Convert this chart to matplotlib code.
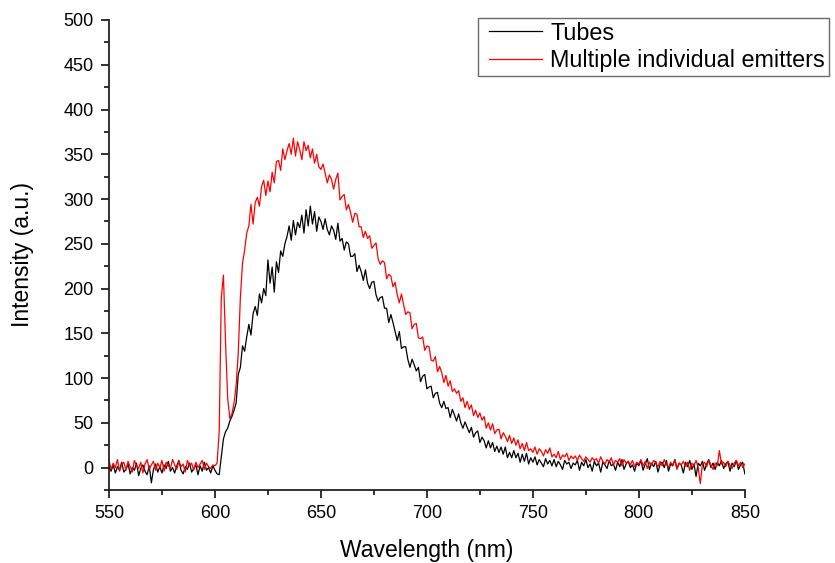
import numpy as np
import matplotlib
matplotlib.use("Agg")
import matplotlib.pyplot as plt
from matplotlib.ticker import MultipleLocator
from matplotlib.lines import Line2D
from matplotlib.legend_handler import HandlerLine2D

plt.rcParams['font.family'] = ['Liberation Sans', 'DejaVu Sans']

wavelength = np.arange(550, 851, 1)

tubes = [
    2, -4, 3, -6, 1, -3, 6, -5, -2, 4,
    -7, 0, -3, 5, -9, -1, 3, -4, -8, 2,
    -17, -2, 4, -5, 1, -6, 3, -1, 7, -4,
    0, -6, 2, 8, -3, -7, 1, -2, 5, -5,
    -1, 3, -8, 2, -4, 6, -3, 0, -6, 2,
    -3, -7, -8, 12, 32, 40, 44, 52, 57, 64,
    72, 104, 112, 136, 130, 146, 160, 148, 172, 180,
    170, 194, 184, 200, 192, 232, 206, 224, 196, 230,
    218, 242, 236, 250, 258, 270, 254, 276, 260, 274,
    268, 282, 262, 288, 270, 292, 272, 286, 264, 280,
    275, 266, 278, 266, 260, 270, 265, 255, 273, 253,
    256, 243, 252, 250, 236, 236, 239, 219, 226, 219,
    209, 221, 206, 200, 207, 208, 193, 186, 190, 191,
    178, 178, 162, 171, 162, 152, 142, 152, 133, 135,
    135, 121, 112, 121, 115, 108, 112, 96, 102, 104,
    88, 90, 91, 78, 83, 84, 72, 67, 74, 66,
    67, 56, 65, 59, 52, 60, 50, 44, 51, 45,
    39, 45, 34, 39, 41, 28, 34, 30, 22, 30,
    22, 28, 18, 24, 17, 23, 15, 23, 11, 17,
    11, 19, 11, 16, 6, 15, 7, 16, 4, 11,
    6, 12, 3, 9, 5, 1, 10, 4, 8, 2,
    9, 1, 7, 3, -2, 8, 4, 6, -1, 5,
    3, 8, -3, 6, 2, 9, 0, 4, -4, 7,
    2, 5, -5, 6, 3, -1, 8, 2, 4, -3,
    6, 1, 9, -2, 4, 7, 0, 3, -4, 5,
    2, 8, -3, 4, 10, -2, 5, 1, 7, -5,
    3, 6, 0, 8, -4, 4, 2, 9, -1, 5,
    3, -6, 6, 1, 8, -2, 4, -10, 5, 2,
    7, -3, 4, 9, 0, 5, -2, 6, 2, 8,
    -1, 4, 7, -4, 5, 1, 8, -2, 3, 6,
    -7,
]

emitters = [
    8, -2, 5, 0, 9, -4, 3, 6, -3, 7,
    1, -5, 8, 2, -1, 6, -6, 4, 9, -2,
    3, 7, -3, 5, 0, 8, -4, 6, 2, -1,
    9, 3, -2, 7, 1, 4, -5, 8, 2, 5,
    -3, 6, 0, 4, 8, -2, 5, 1, -1, 3,
    2, 5, 40, 190, 215, 140, 78, 55, 60, 72,
    92, 128, 190, 228, 243, 262, 270, 294, 272, 296,
    302, 292, 314, 321, 304, 320, 308, 330, 318, 342,
    343, 332, 356, 344, 354, 362, 350, 368, 348, 364,
    355, 344, 364, 354, 360, 346, 356, 340, 350, 336,
    333, 339, 329, 318, 327, 322, 311, 322, 329, 299,
    303, 305, 288, 294, 285, 274, 284, 283, 269, 269,
    257, 264, 256, 259, 245, 248, 251, 233, 227, 231,
    229, 211, 216, 214, 202, 207, 193, 184, 194, 182,
    171, 174, 173, 155, 160, 161, 145, 144, 146, 131,
    136, 135, 120, 119, 124, 107, 113, 106, 95, 103,
    91, 97, 85, 88, 83, 86, 74, 78, 67, 74,
    65, 70, 58, 64, 56, 61, 53, 57, 44, 50,
    42, 49, 38, 42, 43, 32, 39, 35, 29, 36,
    27, 33, 25, 31, 21, 27, 19, 28, 19, 21,
    17, 23, 15, 21, 18, 13, 20, 16, 22, 12,
    15, 11, 18, 9, 14, 12, 16, 8, 13, 10,
    13, 8, 14, 10, 7, 12, 9, 6, 11, 8,
    10, 5, 12, 7, 4, 9, 6, 11, 3, 8,
    6, 10, 2, 9, 5, 7, 3, 8, 1, 6,
    4, 9, 2, 7, -1, 6, 3, 8, 5, 1,
    7, 2, 9, 4, 0, 6, 3, 8, -2, 5,
    3, 7, 1, 6, -3, 5, 2, 8, 0, -18,
    4, 6, 1, 8, 3, -2, 5, 2, 19, 4,
    6, 1, 7, 3, -1, 5, 8, 2, 6, 0,
    4,
]

series_labels = ["Tubes", "Multiple individual emitters"]
series_colors = ["#000000", "#ff0000"]

fig = plt.figure(figsize=(8.35, 5.63), dpi=100)
ax = fig.add_axes([0.1305, 0.1297, 0.7615, 0.8348])

ax.plot(wavelength, tubes, color=series_colors[0], lw=0.9, label=series_labels[0])
ax.plot(wavelength, emitters, color=series_colors[1], lw=0.9, label=series_labels[1])

ax.set_xlim(550, 850)
ax.set_ylim(-25, 500)
ax.xaxis.set_major_locator(MultipleLocator(50))
ax.xaxis.set_minor_locator(MultipleLocator(25))
ax.yaxis.set_major_locator(MultipleLocator(50))
ax.yaxis.set_minor_locator(MultipleLocator(25))

for s in ['top', 'right']:
    ax.spines[s].set_visible(False)
for s in ['left', 'bottom']:
    ax.spines[s].set_linewidth(1.3)
    ax.spines[s].set_color('#222222')

ax.tick_params(which='major', direction='out', length=6, width=1.3, labelsize=13, color='#222222', pad=5)
ax.tick_params(which='minor', direction='out', length=3.5, width=1.3, color='#222222')

ax.set_xlabel("Wavelength (nm)", fontsize=16.5, labelpad=12)
ax.set_ylabel("Intensity (a.u.)", fontsize=16.5, labelpad=21)

leg = fig.legend(loc='upper left', bbox_to_anchor=(478/835, 1 - 18/563),
                 fontsize=16.8, frameon=True, fancybox=False, borderpad=0.15,
                 handlelength=2.6, handletextpad=0.35, labelspacing=0.2,
                 borderaxespad=0,
                 handler_map={Line2D: HandlerLine2D(xpad=0.3)})
leg.get_frame().set_edgecolor('#444444')
leg.get_frame().set_linewidth(1.0)

fig.savefig("out.png", dpi=100)
